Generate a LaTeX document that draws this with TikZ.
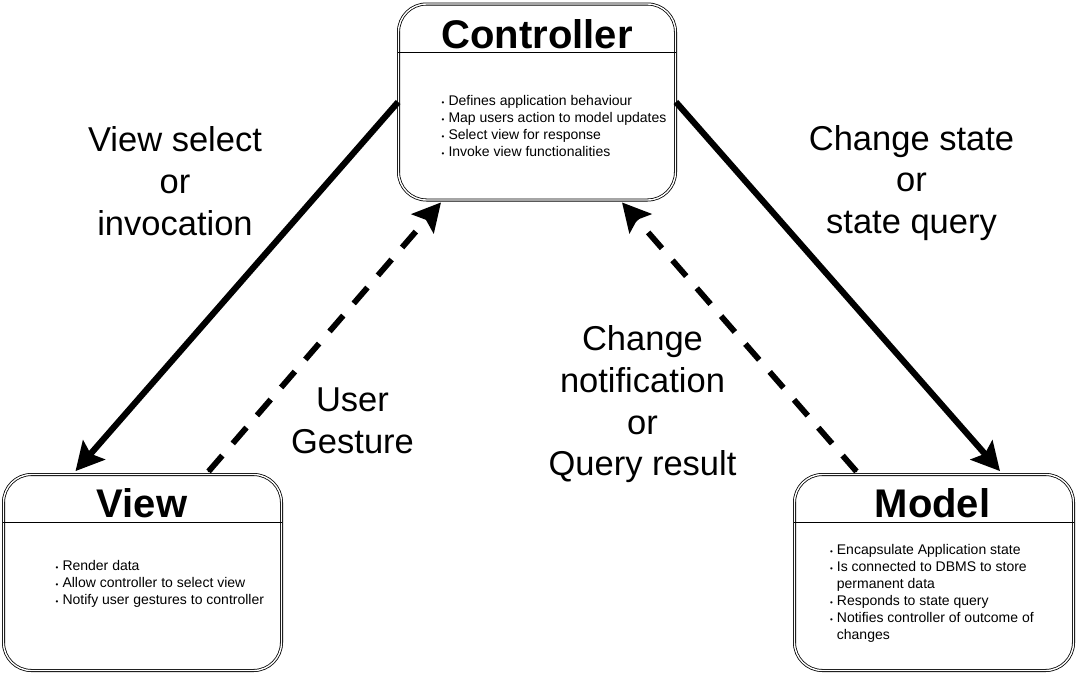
\documentclass[tikz,border=0pt]{standalone}
\usepackage{fontspec}
\setmainfont{Liberation Sans}
\usetikzlibrary{arrows.meta}
\newcommand\mybul{\llap{\fontsize{8}{8}\selectfont\textbullet\hspace{4pt}}}
\begin{document}
\begin{tikzpicture}[x=1pt,y=-1pt,
  box/.style={draw, line width=0.8pt, double, double distance=1.4pt,
    rounded corners=28pt, minimum width=#1, minimum height=196pt, inner sep=0pt},
  divider/.style={draw, line width=0.9pt},
  boxtitle/.style={font=\fontsize{40}{40}\selectfont\bfseries, inner sep=0pt, anchor=base},
  itemlist/.style={font=\fontsize{14}{16.9}\selectfont, align=left, inner sep=0pt, anchor=base west},
  lbl/.style={font=\fontsize{34.5}{41.6}\selectfont, align=center, inner sep=0pt, anchor=base},
  solidarrow/.style={draw, line width=6.2pt, -{Stealth[length=28pt,width=29pt,inset=5pt]}},
  dasharrow/.style={draw, line width=5.8pt, dash pattern=on 21pt off 16pt,
    {Turned Square[length=6pt,width=6pt]}-{Stealth[length=28pt,width=29pt,inset=5pt]}}
]
\useasboundingbox (0,0) rectangle (1076,673);

% boxes
\node[box=277pt] (ctrl) at (537,102) {};
\node[box=278pt] (view) at (142.5,572.5) {};
\node[box=279pt] (model) at (934,572.5) {};

% dividers
\draw[divider] (ctrl.west |- 0,52) -- (ctrl.east |- 0,52);
\draw[divider] (view.west |- 0,522) -- (view.east |- 0,522);
\draw[divider] (model.west |- 0,522) -- (model.east |- 0,522);

% titles
\node[boxtitle] (ctrlT) at (537,48) {Controller};
\node[boxtitle] (viewT) at (142,517) {View};
\node[boxtitle] (modelT) at (932.5,517) {Model};

% item lists (anchor = baseline of last line)
\node[itemlist] (ctrlL) at (448.3,156.2) {\mybul Defines application behaviour\\
\mybul Map users action to model updates\\
\mybul Select view for response\\
\mybul Invoke view functionalities};
\node[itemlist] (viewL) at (62.3,604.4) {\mybul Render data\\
\mybul Allow controller to select view\\
\mybul Notify user gestures to controller};
\node[itemlist] (modelL) at (836.7,639) {\mybul Encapsulate Application state\\
\mybul Is connected to DBMS to store\\
permanent data\\
\mybul Responds to state query\\
\mybul Notifies controller of outcome of\\
changes};

% labels (anchor = baseline of last line)
\node[lbl] (lblVS) at (175,235) {View select\\or\\invocation};
\node[lbl] (lblCS) at (911.5,233.5) {Change state\\or\\state query};
\node[lbl] (lblUG) at (352.5,453.2) {User\\Gesture};
\node[lbl] (lblCN) at (642.5,475.7) {Change\\notification\\or\\Query result};

% connectors
\draw[solidarrow] (ctrl.west) -- ([xshift=-67pt,yshift=3pt]view.north);
\draw[solidarrow] (ctrl.east) -- ([xshift=66pt,yshift=3pt]model.north);
\draw[dasharrow] ([xshift=65.5pt,yshift=2pt]view.north) -- ([xshift=-96pt,yshift=-2pt]ctrl.south);
\draw[dasharrow] ([xshift=-77pt,yshift=2pt]model.north) -- ([xshift=85pt,yshift=-2pt]ctrl.south);
\end{tikzpicture}
\end{document}
